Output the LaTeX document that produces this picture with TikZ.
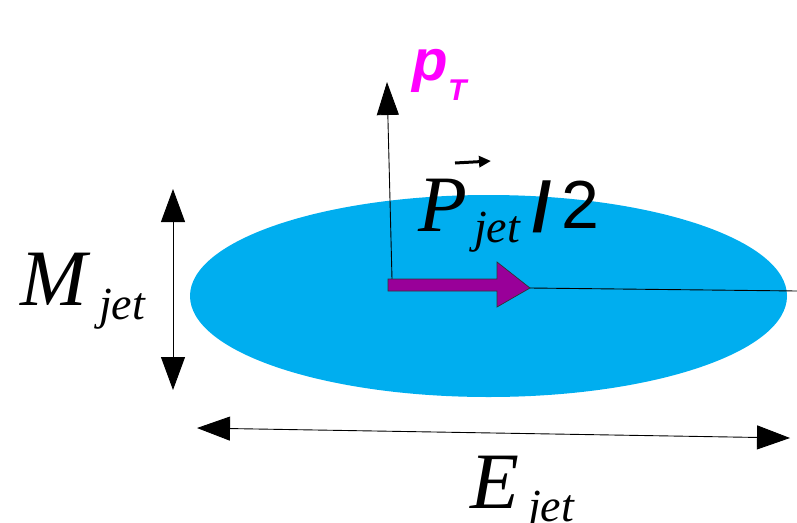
\documentclass[tikz,border=0pt]{standalone}
\usepackage{fontspec}
\setmainfont{Liberation Serif}
\newfontfamily\sansf{Liberation Sans}
\usetikzlibrary{shapes.geometric,arrows.meta}
\definecolor{jetblue}{RGB}{0,174,239}
\definecolor{momentum}{RGB}{153,0,153}
\definecolor{ptmag}{RGB}{255,0,255}
\tikzset{
  bighead/.style={-{Triangle[length=33pt,width=22pt]}},
  dblhead/.style={{Triangle[length=33pt,width=24pt]}-{Triangle[length=33pt,width=24pt]}},
  lbl/.style={inner sep=0pt, anchor=base west},
  bigit/.style={lbl, font=\fontsize{80}{80}\selectfont\itshape},
  subit/.style={lbl, font=\fontsize{46}{46}\selectfont\itshape},
}
\begin{document}
\begin{tikzpicture}[x=1pt,y=-1pt]
\useasboundingbox (0,0) rectangle (797,522);
% jet ellipse
\node[ellipse, fill=jetblue, minimum width=597pt, minimum height=202pt, inner sep=0pt] (jet) at (488.5,296) {};
% coordinates
\coordinate (ptbase) at (392,279);
\coordinate (pttip) at (387,82);
\coordinate (arrtip) at (530,288);
\coordinate (rightend) at (797,291);
\coordinate (mtop) at (173,189);
\coordinate (mbot) at (173,390);
\coordinate (eleft) at (197,428);
\coordinate (eright) at (790,438);
% thin axis line
\draw[line width=0.9pt] (arrtip) -- (rightend);
% pT axis
\draw[line width=0.9pt, bighead] (ptbase) -- (pttip);
% momentum arrow
\filldraw[fill=momentum, draw=black!80, line width=0.7pt]
  (388,279) -- (497,279) -- (497,262) -- (arrtip) -- (497,307) -- (497,291) -- (388,291) -- cycle;
% dimension arrows
\draw[line width=0.9pt, dblhead] (mtop) -- (mbot);
\draw[line width=0.9pt, dblhead] (eleft) -- (eright);
% labels
\node[lbl, text=ptmag, font=\fontsize{58}{58}\selectfont\sansf\bfseries\itshape] (plbl) at (412,80) {p};
\node[lbl, text=ptmag, font=\fontsize{30}{30}\selectfont\sansf\bfseries\itshape] (tlbl) at (448,100) {T};
\node[bigit] (Plbl) at (418,231) {P};
\node[subit] (Pjet) at (474,242) {jet};
\node[lbl, font=\fontsize{70}{70}\selectfont\sansf\bfseries] (Pslash) at (532,231) {/};
\node[lbl, font=\fontsize{68}{68}\selectfont\sansf] (Ptwo) at (561,228) {2};
\coordinate (vecL) at (455,163);
\coordinate (vecR) at (491,161);
\draw[line width=3pt, -{Triangle[length=12pt,width=11pt]}] (vecL) -- (vecR);
\node[bigit] (Mlbl) at (20,305) {M};
\node[subit] (Mjet) at (99,319) {jet};
\node[bigit] (Elbl) at (470,508) {E};
\node[subit] (Ejet) at (528,521) {jet};
\end{tikzpicture}
\end{document}
